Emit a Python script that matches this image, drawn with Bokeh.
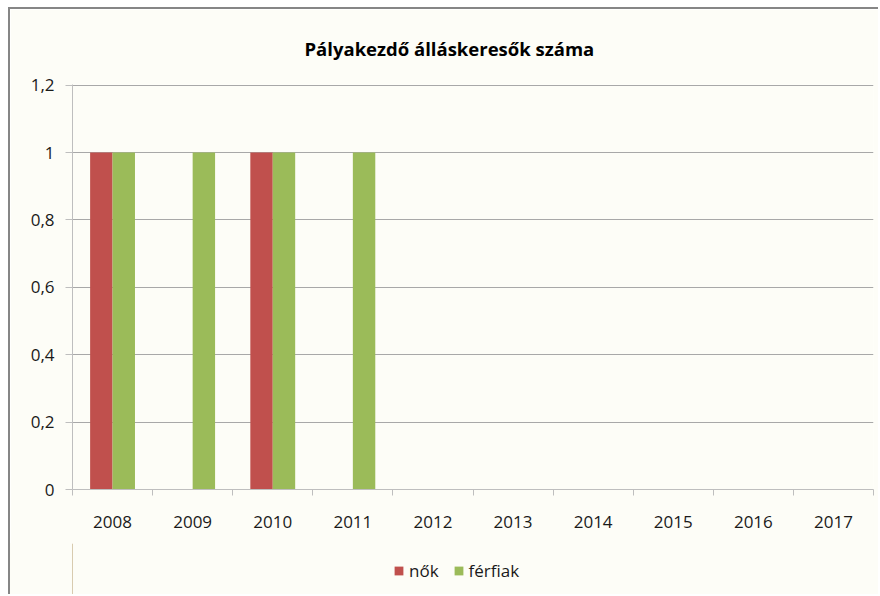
from bokeh.plotting import figure
from bokeh.layouts import column
from bokeh.models import (ColumnDataSource, Range1d, FixedTicker, LinearAxis,
                          CustomJSTickFormatter, Legend, LegendItem)
from bokeh.transform import dodge
from bokeh.embed import file_html
from bokeh.resources import INLINE

title_text = "Pályakezdő álláskeresők száma"
years = ["2008", "2009", "2010", "2011", "2012", "2013", "2014", "2015", "2016", "2017"]
nok = [1, 0, 1, 0, 0, 0, 0, 0, 0, 0]
ferfiak = [1, 1, 1, 1, 0, 0, 0, 0, 0, 0]
series_names = ["nők", "férfiak"]
y_ticks = [0, 0.2, 0.4, 0.6, 0.8, 1.0, 1.2]
y_labels = ["0", "0,2", "0,4", "0,6", "0,8", "1", "1,2"]

RED = "#C0504D"
GREEN = "#9BBB59"
BG = "#FDFDF7"
FONT = "Open Sans"
BORDER = "2px solid #868686"

n = len(years)
centers = [i + 0.5 for i in range(n)]
src = ColumnDataSource(dict(xc=centers, year=years, nok=nok, ferfiak=ferfiak))

p = figure(width=870, height=536, x_range=Range1d(0, n), y_range=Range1d(0, 1.202),
           output_backend="svg", toolbar_location=None, x_axis_location=None,
           min_border_left=62, min_border_right=7, min_border_top=74, min_border_bottom=56)
p.styles = {"border-top": BORDER, "border-left": BORDER,
            "margin-top": "7px", "margin-left": "8px"}
p.background_fill_color = BG
p.border_fill_color = BG
p.outline_line_color = None

bw = 0.28
p.vbar(x=dodge("xc", -bw / 2), top="nok", width=bw, source=src, color=RED, line_color=None)
p.vbar(x=dodge("xc", bw / 2), top="ferfiak", width=bw, source=src, color=GREEN, line_color=None)

# title
p.title.text = title_text
p.title.align = "left"
p.title.offset = 232
p.title.standoff = 48
p.title.text_font = FONT
p.title.text_font_size = "18.5px"
p.title.text_font_style = "bold"
p.title.text_color = "#000000"

# y axis
p.yaxis.ticker = FixedTicker(ticks=y_ticks)
p.yaxis.formatter = CustomJSTickFormatter(args=dict(t=y_ticks, l=y_labels), code="""
let best = 0;
for (let i = 0; i < t.length; i++) { if (Math.abs(t[i] - tick) < Math.abs(t[best] - tick)) best = i; }
return l[best];
""")
p.yaxis.axis_line_color = "#BEBEBE"
p.yaxis.major_tick_line_color = "#BEBEBE"
p.yaxis.major_tick_out = 7
p.yaxis.major_tick_in = 0
p.yaxis.minor_tick_line_color = None
p.yaxis.major_label_standoff = 11
p.yaxis.major_label_text_font = FONT
p.yaxis.major_label_text_font_size = "17px"
p.yaxis.major_label_text_color = "#1A1A1A"

p.ygrid.grid_line_color = "#A8A8A8"
p.ygrid.ticker = FixedTicker(ticks=y_ticks[1:])
p.xgrid.grid_line_color = None

# x axis: labels at category centres, minor ticks at category boundaries
xaxis = LinearAxis(ticker=FixedTicker(ticks=centers, minor_ticks=list(range(n + 1))))
xaxis.formatter = CustomJSTickFormatter(args=dict(c=centers, l=years), code="""
let best = 0;
for (let i = 0; i < c.length; i++) { if (Math.abs(c[i] - tick) < Math.abs(c[best] - tick)) best = i; }
return l[best];
""")
xaxis.axis_line_color = "#BEBEBE"
xaxis.major_tick_line_color = None
xaxis.major_tick_out = 6
xaxis.major_tick_in = 0
xaxis.minor_tick_line_color = "#BEBEBE"
xaxis.minor_tick_out = 6
xaxis.minor_tick_in = 0
xaxis.major_label_standoff = 20
xaxis.major_label_text_font = FONT
xaxis.major_label_text_font_size = "17px"
xaxis.major_label_text_color = "#1A1A1A"
p.add_layout(xaxis, "below")

# legend strip (its frame is aligned with the chart's frame by the column layout)
pl = figure(width=870, height=51, x_range=Range1d(0, 1), y_range=Range1d(0, 1),
            output_backend="svg", toolbar_location=None,
            x_axis_location=None, y_axis_location=None, min_border=0)
pl.styles = {"border-left": BORDER, "margin-left": "8px", "background-color": BG}
pl.background_fill_alpha = 0
pl.border_fill_alpha = 0
pl.outline_line_color = None
pl.grid.grid_line_color = None
# legend swatches: one point each, placed outside the visible range
k1 = pl.vbar(x=[-5], top=[1], width=0.1, color=RED, line_color=None)
k2 = pl.vbar(x=[-5], top=[1], width=0.1, color=GREEN, line_color=None)
lg = Legend(items=[LegendItem(label=series_names[0], renderers=[k1]),
                   LegendItem(label=series_names[1], renderers=[k2])])
lg.orientation = "horizontal"
lg.location = (321, 12)
lg.background_fill_alpha = 0
lg.border_line_color = None
lg.padding = 0
lg.margin = 0
lg.spacing = 14
lg.glyph_width = 11
lg.glyph_height = 11
lg.label_standoff = 5
lg.label_text_font = FONT
lg.label_text_font_size = "17px"
lg.label_text_color = "#1A1A1A"
pl.add_layout(lg, "center")

layout = column(p, pl, spacing=0)
open("out.html", "w").write(file_html(layout, INLINE))
